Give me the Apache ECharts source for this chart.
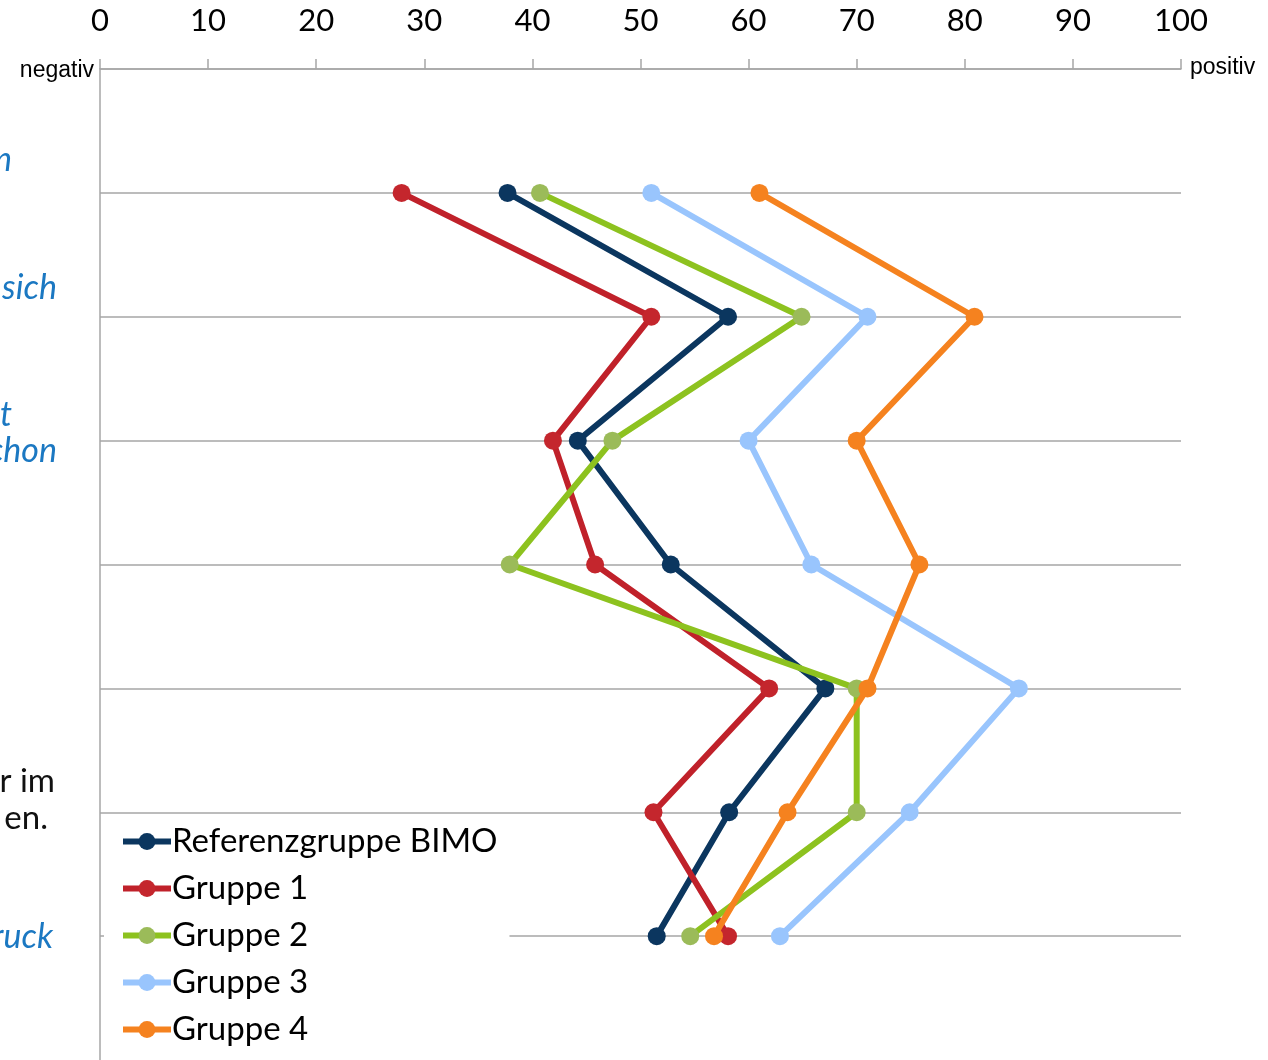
<!DOCTYPE html>
<html>
<head>
<meta charset="utf-8">
<script src="https://cdn.jsdelivr.net/npm/echarts@6/dist/echarts.min.js"></script>
<style>html,body{margin:0;padding:0;background:#fff}#c{width:1268px;height:1060px}</style>
</head>
<body>
<div id="c"></div>
<script>
// Category label fragments (visible parts of the row labels, top to bottom)
const categories = ['…n', '…sich', '…t / …chon', '', '', '…r im / …en.', '…ruck'];
const xTicks = [0, 10, 20, 30, 40, 50, 60, 70, 80, 90, 100];
const seriesNames = ['Referenzgruppe BIMO', 'Gruppe 1', 'Gruppe 2', 'Gruppe 3', 'Gruppe 4'];
const referenz = [37.7, 58.1, 44.2, 52.8, 67.1, 58.2, 51.5];
const gruppe1  = [27.9, 51.0, 41.9, 45.8, 61.9, 51.2, 58.1];
const gruppe2  = [40.7, 64.9, 47.4, 37.9, 70.0, 70.0, 54.6];
const gruppe3  = [51.0, 71.0, 60.0, 65.8, 85.0, 74.9, 62.9];
const gruppe4  = [61.0, 80.9, 70.0, 75.8, 71.0, 63.6, 56.8];

const values = [referenz, gruppe1, gruppe2, gruppe3, gruppe4];
const lineColors = ['#0b365f', '#c0212a', '#8dc21f', '#99c5fd', '#f5821f'];
const markColors = ['#0b365f', '#c4262d', '#9bbb59', '#99c5fd', '#f5821f'];

const chart = echarts.init(document.getElementById('c'));
const calibri = 'Lato, "Open Sans", sans-serif';
const blue = '#1b78c2';

const series = values.map((vals, k) => ({
  name: seriesNames[k],
  type: 'line',
  data: vals.map((v, i) => [v, i + 1]),
  symbol: 'circle',
  symbolSize: 18,
  lineStyle: { color: lineColors[k], width: 6 },
  itemStyle: { color: markColors[k] },
  z: 2 + k,
  animation: false
}));

function txt(text, x, y, opts) {
  return Object.assign({
    type: 'text', x: x, y: y,
    style: Object.assign({ text: text, fill: blue, font: 'italic 34px ' + calibri, textAlign: 'right', textVerticalAlign: 'middle' }, opts || {})
  });
}

const gridColor = '#a6a6a6';
const splitColors = [];
for (let i = 0; i <= categories.length; i++) splitColors.push(gridColor);
splitColors.push('rgba(0,0,0,0)');

chart.setOption({
  animation: false,
  grid: { left: 100, right: 87, top: 69, bottom: 0 },
  xAxis: {
    type: 'value', position: 'top', min: 0, max: 100, interval: 10,
    axisLine: { show: true, lineStyle: { color: gridColor, width: 1.5 } },
    axisTick: { show: true, length: 10, lineStyle: { color: gridColor, width: 1.5 } },
    axisLabel: { show: true, margin: 33, fontFamily: calibri, fontSize: 31, color: '#000',
      formatter: v => xTicks.includes(v) ? String(v) : '' },
    splitLine: { show: false }
  },
  yAxis: {
    type: 'value', inverse: true, min: 0, max: categories.length + 1, interval: 1,
    axisLine: { show: true, lineStyle: { color: gridColor, width: 1.5 } },
    axisTick: { show: false },
    axisLabel: { show: false },
    splitLine: { show: true, lineStyle: { color: splitColors, width: 1.5 } }
  },
  legend: {
    orient: 'vertical', left: 104, top: 817,
    backgroundColor: '#ffffff',
    padding: [8, 12, 10, 16],
    itemWidth: 48, itemHeight: 21, itemGap: 14,
    lineStyle: { width: 6 },
    textStyle: { fontFamily: calibri, fontSize: 33, color: '#000', padding: [0, 0, 0, -4] },
    data: seriesNames
  },
  graphic: [
    txt('negativ', 94, 71, { fill: '#000', font: '23px "Liberation Sans", Arial, sans-serif' }),
    txt('positiv', 1190, 68, { fill: '#000', font: '23px "Liberation Sans", Arial, sans-serif', textAlign: 'left' }),
    txt('n', 12, 160),
    txt('sich', 57, 288),
    txt('t', 12, 415),
    txt('chon', 57, 451),
    txt('r im', 55, 781, { fill: '#111', font: '33px ' + calibri }),
    txt('en.', 48, 818, { fill: '#111', font: '33px ' + calibri }),
    txt('ruck', 53, 937)
  ],
  series: series
});
</script>
</body>
</html>
